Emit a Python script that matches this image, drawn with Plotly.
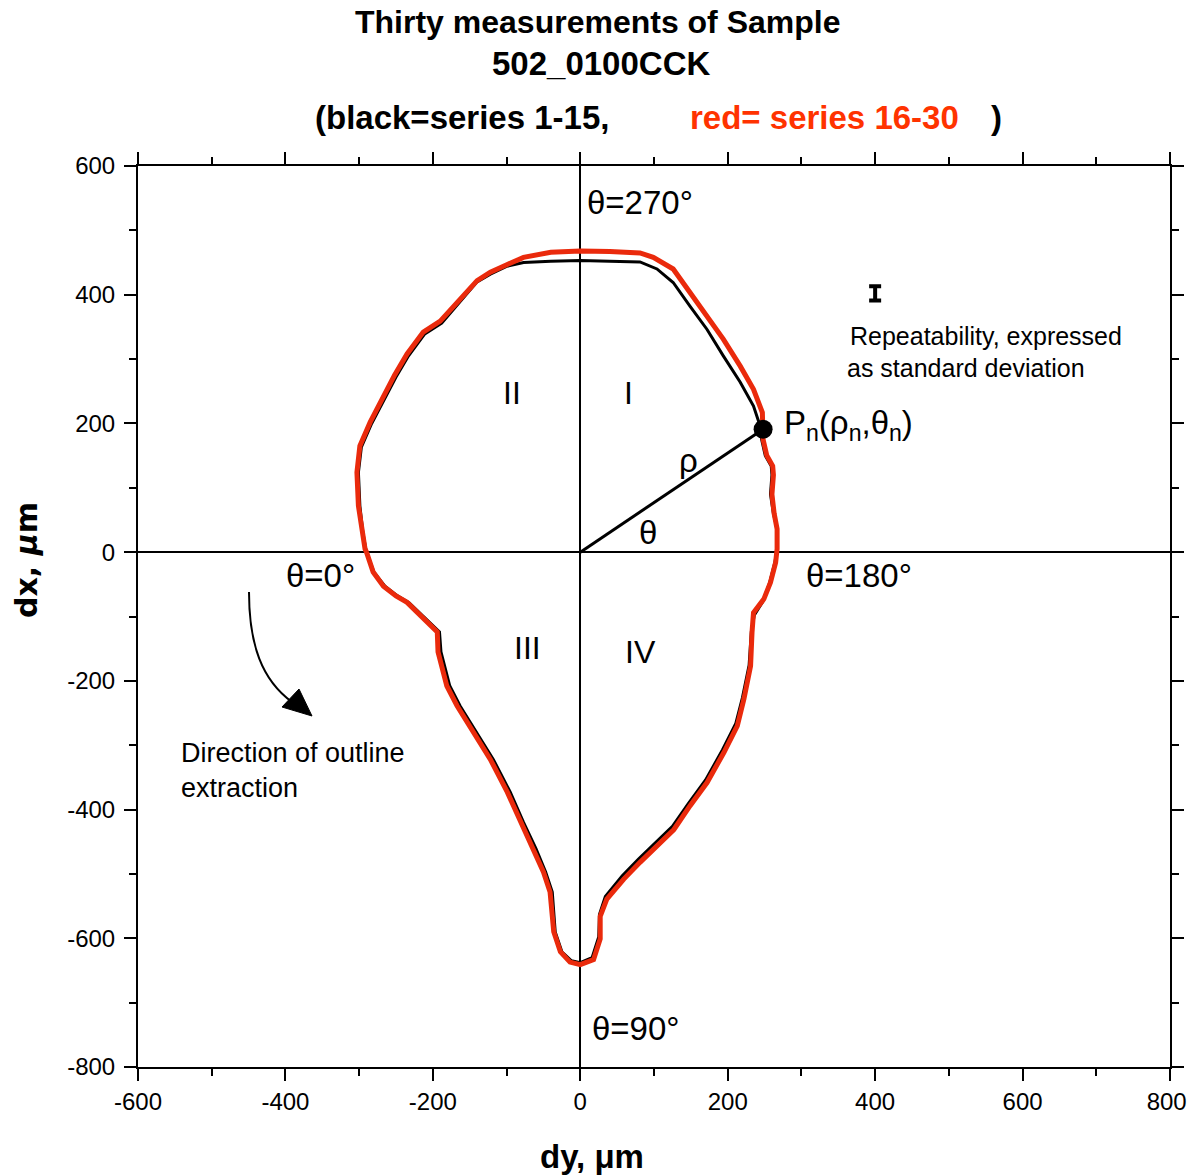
import plotly.graph_objects as go

# ---------------- data (dy, dx in micrometres) ----------------
# red = series 16-30 (outline), starting at theta=0, clockwise
RED_DY = [-290, -281, -267, -250, -235, -213, -194, -193, -181, -167, -145, -122, -99, -81,
          -64, -50, -41, -38, -36, -27, -14, 0, 18, 27, 27, 36, 59, 81, 104, 127, 149, 172,
          195, 213, 222, 231, 233, 235, 249, 258, 265, 267, 267, 263, 260, 262, 261, 253,
          248, 248, 247, 235, 217, 194, 167, 145, 126, 99, 81, 40, 0, -40, -54, -77, -99,
          -122, -140, -160, -190, -213, -235, -252, -267, -285, -299, -303, -301, -296,
          -292, -290]
RED_DX = [0, -31, -53, -68, -78, -104, -124, -155, -208, -239, -280, -322, -373, -420,
          -461, -497, -528, -559, -590, -621, -637, -641, -633, -601, -566, -539, -508,
          -482, -457, -431, -394, -358, -311, -270, -228, -177, -124, -94, -73, -47, -16,
          5, 36, 60, 90, 120, 134, 150, 175, 191, 217, 253, 289, 331, 373, 409, 440, 458,
          465, 467, 468, 466, 463, 458, 447, 435, 422, 397, 359, 342, 308, 275, 242, 202,
          165, 124, 72, 31, 5, 0]

# black = series 1-15
BLACK_DY = [-290, -280, -265, -248, -232, -210, -191, -189, -177, -163, -141, -118, -95, -77,
            -60, -47, -38, -36, -34, -25, -12, 0, 16, 25, 26, 34, 57, 79, 102, 125, 147, 170,
            193, 211, 220, 229, 232, 236, 248, 257, 264, 267, 267, 262, 258, 260, 259, 251,
            246, 244, 235, 217, 194, 172, 149, 126, 104, 81, 40, 0, -40, -77, -100, -122,
            -140, -160, -188, -211, -233, -250, -265, -283, -297, -301, -299, -295, -291, -290]
BLACK_DX = [0, -31, -53, -68, -79, -104, -124, -155, -208, -239, -280, -322, -373, -420,
            -461, -497, -528, -559, -590, -621, -635, -638, -630, -598, -563, -535, -503,
            -477, -452, -426, -390, -354, -307, -266, -226, -176, -124, -98, -76, -47, -16,
            5, 36, 60, 90, 120, 134, 150, 175, 196, 227, 264, 305, 346, 382, 419, 440, 451,
            452, 453, 452, 450, 444, 432, 420, 394, 356, 339, 305, 272, 240, 200, 163, 124,
            72, 31, 5, 0]

# point Pn(rho_n, theta_n)
P_DY = [248]
P_DX = [191]

# repeatability symbol (error bar), value and standard deviation
REP_DY = [400]
REP_DX = [402]
REP_SD = [11]

X_TICKS = [-600, -400, -200, 0, 200, 400, 600, 800]
X_TICK_LABELS = ["-600", "-400", "-200", "0", "200", "400", "600", "800\u00a0"]
Y_TICKS = [-800, -600, -400, -200, 0, 200, 400, 600]
Y_TICK_LABELS = ["-800", "-600", "-400", "-200", "0", "200", "400", "600"]

# ---------------- geometry helpers ----------------
W, H = 1189, 1176
L, R, T, B = 138, 1170, 166, 1067  # plot area in page pixels
XR = [-600, 800]
YR = [-800, 600]


def px(x):
    return (x - L) / (R - L)


def py(y):
    return (B - y) / (B - T)


def dxp(x):
    return XR[0] + (x - L) / (R - L) * (XR[1] - XR[0])


def dyp(y):
    return YR[1] - (y - T) / (B - T) * (YR[1] - YR[0])


RED = "#EA2A0C"
FONT = "Liberation Sans, Arial, sans-serif"

fig = go.Figure()

fig.add_trace(go.Scatter(x=BLACK_DY, y=BLACK_DX, mode="lines",
                         line=dict(color="black", width=3), hoverinfo="skip",
                         showlegend=False))
fig.add_trace(go.Scatter(x=RED_DY, y=RED_DX, mode="lines",
                         line=dict(color=RED, width=5), hoverinfo="skip",
                         showlegend=False))

# radius line and point
fig.add_trace(go.Scatter(x=[0, P_DY[0]], y=[0, P_DX[0]], mode="lines",
                         line=dict(color="black", width=3), showlegend=False))
fig.add_trace(go.Scatter(x=P_DY, y=P_DX, mode="markers",
                         marker=dict(color="black", size=19), showlegend=False))

# repeatability symbol
fig.add_trace(go.Scatter(x=REP_DY, y=REP_DX, mode="markers",
                         marker=dict(color="black", size=1, opacity=0),
                         error_y=dict(type="data", array=REP_SD, color="black",
                                      thickness=4, width=6),
                         showlegend=False))

ann = []


def add_text(text, x, y, size, xanchor="center", yanchor="middle", color="black",
             bold=False, family=FONT, angle=0, align="left"):
    ann.append(dict(text=("<b>%s</b>" % text) if bold else text, x=px(x), y=py(y),
                    xref="paper", yref="paper", showarrow=False, xanchor=xanchor,
                    yanchor=yanchor, textangle=angle, align=align,
                    font=dict(size=size, color=color, family=family)))


# titles
add_text("Thirty measurements of Sample", 597, 22, 32, bold=True)
add_text("502_0100CCK", 601, 63, 33, bold=True)
add_text("(black=series 1-15,", 313, 117, 33, bold=True, xanchor="left")
add_text("red= series 16-30", 688, 117, 33, bold=True, xanchor="left", color="#FF3300")
add_text(")", 989, 117, 33, bold=True, xanchor="left")

# axis titles
add_text("dy, \u03bcm", 592, 1156, 33, bold=True)
add_text("dx, <i>\u03bc</i>m", 26, 560, 30, bold=True,
         family="DejaVu Sans, Verdana, sans-serif", angle=-90)

# angle labels
add_text("\u03b8=270\u00b0", 585, 202, 33, xanchor="left")
add_text("\u03b8=0\u00b0", 284, 575, 33, xanchor="left")
add_text("\u03b8=180\u00b0", 804, 575, 33, xanchor="left")
add_text("\u03b8=90\u00b0", 590, 1028, 33, xanchor="left")

# quadrant labels
add_text("II", 512, 393, 32)
add_text("I", 628, 393, 32)
add_text("III", 527, 648, 32)
add_text("IV", 640, 652, 32)
add_text("\u03c1", 688, 460, 33)
add_text("\u03b8", 648, 532, 33)
add_text("P<sub>n</sub>(\u03c1<sub>n</sub>,\u03b8<sub>n</sub>)", 782, 425, 33, xanchor="left")

add_text("Repeatability, expressed", 848, 336, 25, xanchor="left")
add_text("as standard deviation", 845, 368, 25, xanchor="left")
add_text("Direction of outline", 179, 753, 27, xanchor="left")
add_text("extraction", 179, 788, 27, xanchor="left")

# curved arrow
shapes = []
p0 = (249, 592)
c1 = (249, 645)
c2 = (262, 680)
p1 = (292, 702)
path = "M %f,%f C %f,%f %f,%f %f,%f" % (dxp(p0[0]), dyp(p0[1]), dxp(c1[0]), dyp(c1[1]),
                                        dxp(c2[0]), dyp(c2[1]), dxp(p1[0]), dyp(p1[1]))
shapes.append(dict(type="path", path=path, xref="x", yref="y",
                   line=dict(color="black", width=2)))
tri = [(312, 716), (282, 707), (299, 689)]
tpath = "M %f,%f L %f,%f L %f,%f Z" % (dxp(tri[0][0]), dyp(tri[0][1]), dxp(tri[1][0]),
                                       dyp(tri[1][1]), dxp(tri[2][0]), dyp(tri[2][1]))
shapes.append(dict(type="path", path=tpath, xref="x", yref="y", fillcolor="black",
                   line=dict(color="black", width=1)))

axis_common = dict(showgrid=False, zeroline=True, zerolinecolor="black", zerolinewidth=2,
                   showline=True, linecolor="black", linewidth=2, mirror="ticks",
                   ticks="outside", ticklen=12, tickwidth=2, tickcolor="black",
                   automargin=False, ticklabeloverflow="allow",
                   tickfont=dict(size=24, color="black", family=FONT),
                   minor=dict(dtick=100, ticks="outside", ticklen=7, tickwidth=2,
                              tickcolor="black", showgrid=False))

fig.update_layout(
    width=W, height=H, autosize=False,
    margin=dict(l=L, r=W - R, t=T, b=H - B, pad=0),
    paper_bgcolor="white", plot_bgcolor="white",
    xaxis=dict(range=XR, tickvals=X_TICKS, ticktext=X_TICK_LABELS, **axis_common),
    yaxis=dict(range=YR, tickvals=Y_TICKS, ticktext=Y_TICK_LABELS,
               ticklabelstandoff=4, **axis_common),
    annotations=ann, shapes=shapes, showlegend=False,
)

fig.write_html("out.html", config={"displayModeBar": False},
               post_script="document.body.style.margin='0';"
                           "document.body.style.overflow='hidden';")
